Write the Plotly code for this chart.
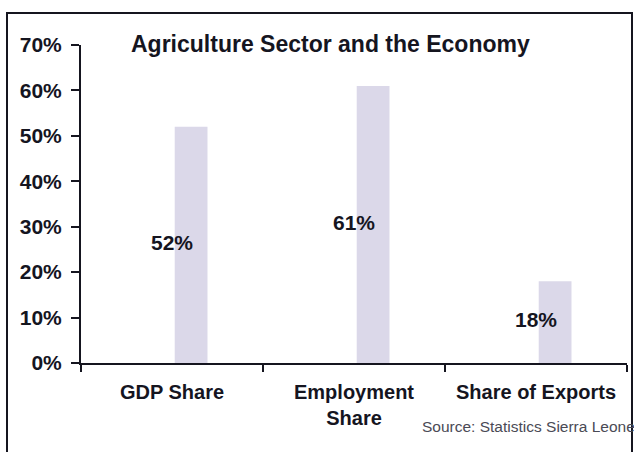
import plotly.graph_objects as go

# Agriculture's share of the Sierra Leone economy
categories = ["GDP Share", "Employment<br>Share", "Share of Exports"]
shares = [52, 61, 18]
y_ticks = [0, 10, 20, 30, 40, 50, 60, 70]

W, H = 634, 452
L, R, T, B = 81, 7, 45, 89
plot_w, plot_h = W - L - R, H - T - B

def px_x(px):
    return (px - L) / plot_w

def px_y(py):
    return (H - B - py) / plot_h

FONT = "Liberation Sans, Arial, sans-serif"
INK = "#15151f"

fig = go.Figure()

fig.add_trace(go.Bar(
    x=categories,
    y=shares,
    width=0.18,
    offset=0.015,
    marker=dict(color="#dbd8e9", line=dict(width=0)),
    hoverinfo="skip",
))

fig.add_trace(go.Scatter(
    x=categories,
    y=[v / 2 for v in shares],
    mode="text",
    text=[f"{v}%" for v in shares],
    textfont=dict(family=FONT, size=21, color=INK, weight="bold"),
    hoverinfo="skip",
))

fig.update_layout(
    width=W,
    height=H,
    margin=dict(l=L, r=R, t=T, b=B, pad=0),
    paper_bgcolor="white",
    plot_bgcolor="white",
    showlegend=False,
    font=dict(family=FONT, color=INK),
    xaxis=dict(
        type="category",
        showline=True,
        linecolor=INK,
        linewidth=2,
        ticks="outside",
        tickson="boundaries",
        ticklen=7,
        tickwidth=2,
        tickcolor=INK,
        showgrid=False,
        zeroline=False,
        tickfont=dict(family=FONT, size=20, color=INK, weight="bold"),
        ticklabelstandoff=10,
        fixedrange=True,
    ),
    yaxis=dict(
        range=[0, 70],
        tickvals=y_ticks,
        ticktext=[f"{t}%" for t in y_ticks],
        showline=True,
        linecolor=INK,
        linewidth=2,
        ticks="outside",
        ticklen=8,
        tickwidth=2,
        tickcolor=INK,
        showgrid=False,
        zeroline=False,
        tickfont=dict(family=FONT, size=21, color=INK, weight="bold"),
        ticklabelstandoff=5,
        fixedrange=True,
    ),
    shapes=[
        dict(
            type="rect", xref="paper", yref="paper",
            x0=px_x(7), x1=px_x(632), y0=px_y(470), y1=px_y(13),
            line=dict(color=INK, width=2), fillcolor="rgba(0,0,0,0)",
            layer="above",
        )
    ],
    annotations=[
        dict(
            text="Agriculture Sector and the Economy",
            xref="paper", yref="paper",
            x=px_x(330), y=px_y(44),
            xanchor="center", yanchor="middle",
            showarrow=False,
            font=dict(family=FONT, size=23, color=INK, weight="bold"),
        ),
        dict(
            text="Source: Statistics Sierra Leone",
            xref="paper", yref="paper",
            x=px_x(637), y=px_y(426),
            xanchor="right", yanchor="middle",
            showarrow=False,
            font=dict(family=FONT, size=15.5, color="#4a4a55"),
        ),
    ],
)

fig.write_html("out.html")
